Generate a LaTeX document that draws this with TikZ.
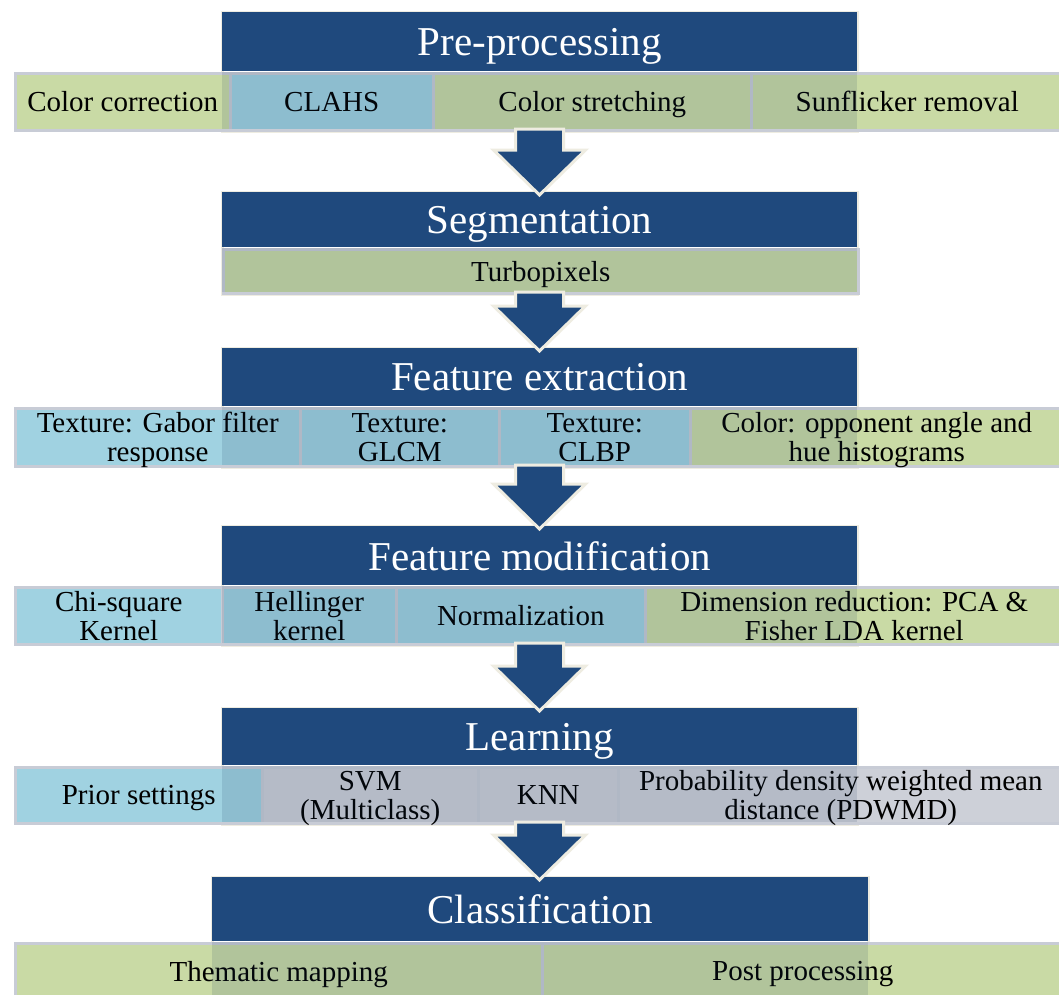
\documentclass[tikz,border=0pt]{standalone}
\usepackage{fontspec}
\setmainfont{Liberation Serif}
\usepackage{tikz}
\usetikzlibrary{calc}
\usetikzlibrary{positioning}
\definecolor{hdblue}{RGB}{31,73,125}
\definecolor{cream}{RGB}{238,236,225}
\definecolor{cellgray}{RGB}{200,204,214}
\definecolor{lgreen}{RGB}{201,218,165}
\definecolor{lblue}{RGB}{160,210,225}
\definecolor{lgray}{RGB}{205,208,216}
\definecolor{shadeblue}{RGB}{20,50,90}
\tikzset{cell/.style={rectangle,draw=cellgray,line width=2.5pt,anchor=north west,inner sep=0pt,align=center,text depth=0pt,font=\fontsize{29}{29}\selectfont}}
\tikzset{head/.style={rectangle,fill=hdblue,anchor=north west,inner sep=0pt,text=white,text depth=0pt,font=\fontsize{41}{44}\selectfont}}
\tikzset{dim/.style={fill=shadeblue,fill opacity=0.13}}
\tikzset{rim/.style={draw=cream,line width=3pt}}
\tikzset{flow/.style={fill=hdblue,draw=cream,line width=3pt,line join=miter}}

\begin{document}
\begin{tikzpicture}[x=1pt,y=-1pt]
\fill[white] (0,0) rectangle (1059,994);
\useasboundingbox (0,0) rectangle (1059,994);
% cream frames behind every stage
\foreach \xa/\xb/\ya/\yc in {222/857/12/129, 222/857/192/292, 222/857/348/465,
	222/857/526/643, 222/857/708/822, 212/868/877/998} {
	\draw[rim] (\xa,\ya) rectangle (\xb,\yc+2.5);
}
% pre-processing
\node[cell, fill=lgreen, minimum width=215, minimum height=57] (cc) at (14,72) {Color correction};
\node[cell, fill=lblue, minimum width=203, minimum height=57] (clahs) at (229,72) {CLAHS};
\node[cell, fill=lgreen, minimum width=318, minimum height=57] (cstr) at (432,72) {Color stretching};
\node[cell, fill=lgreen, minimum width=312, minimum height=57] (sfr) at (750,72) {Sunflicker removal};
% segmentation
\node[cell, fill=lgreen, minimum width=635, minimum height=44] (turbo) at (222,248) {Turbopixels};
% feature extraction
\node[cell, fill=lblue, minimum width=285, minimum height=58] (gab) at (14,407) {Texture: Gabor filter\\response};
\node[cell, fill=lblue, minimum width=199, minimum height=58] (glcm) at (299,407) {Texture:\\GLCM};
\node[cell, fill=lblue, minimum width=191, minimum height=58] (clbp) at (498,407) {Texture:\\CLBP};
\node[cell, fill=lgreen, minimum width=373, minimum height=58] (copp) at (689,407) {Color: opponent angle and\\hue histograms};
% feature modification
\node[cell, fill=lblue, minimum width=207, minimum height=57] (chi) at (14,586) {Chi-square\\Kernel};
\node[cell, fill=lblue, minimum width=174, minimum height=57] (hel) at (221,586) {Hellinger\\kernel};
\node[cell, fill=lblue, minimum width=249, minimum height=57] (nrm) at (395,586) {Normalization};
\node[cell, fill=lgreen, minimum width=418, minimum height=57] (dimr) at (644,586) {Dimension reduction: PCA \&\\Fisher LDA kernel};
% learning
\node[cell, fill=lblue, minimum width=247, minimum height=56] (pri) at (14,766) {Prior settings};
\node[cell, fill=lgray, minimum width=216, minimum height=56] (svm) at (261,766) {SVM\\(Multiclass)};
\node[cell, fill=lgray, minimum width=140, minimum height=56] (knn) at (477,766) {KNN};
\node[cell, fill=lgray, minimum width=445, minimum height=56] (pdw) at (617,766) {Probability density weighted mean\\distance (PDWMD)};
% classification
\node[cell, fill=lgreen, minimum width=527, minimum height=56] (them) at (14,942) {Thematic mapping};
\node[cell, fill=lgreen, minimum width=521, minimum height=56] (post) at (541,942) {Post processing};
% stage headers
\foreach \n/\xa/\xb/\ya/\yb/\yc/\lbl in {1/222/857/12/72/129/Pre-processing,
	2/222/857/192/248/292/Segmentation,
	3/222/857/348/407/465/Feature extraction,
	4/222/857/526/586/643/Feature modification,
	5/222/857/708/766/822/Learning,
	6/212/868/877/942/998/Classification} {
	\node[head, minimum width=\xb-\xa, minimum height=\yb-\ya-1.25] (hd\n) at (\xa,\ya) {\lbl};
	\fill[dim] (\xa,\yb) rectangle (\xb,\yc);
	\coordinate (b\n) at ({(\xa+\xb)/2},\yc);
}
% block arrows
\foreach \i/\j in {1/2,2/3,3/4,4/5,5/6} {
	\draw[flow] let \p1=(b\i), \p2=(hd\j.north) in
		(\x1-24pt,\y1) -- (\x1+24pt,\y1) -- (\x1+24pt,\y2+42pt) -- (\x1+46pt,\y2+42pt)
		-- (\x1,\y2-3pt) -- (\x1-46pt,\y2+42pt) -- (\x1-24pt,\y2+42pt) -- cycle;
}
\end{tikzpicture}
\end{document}
